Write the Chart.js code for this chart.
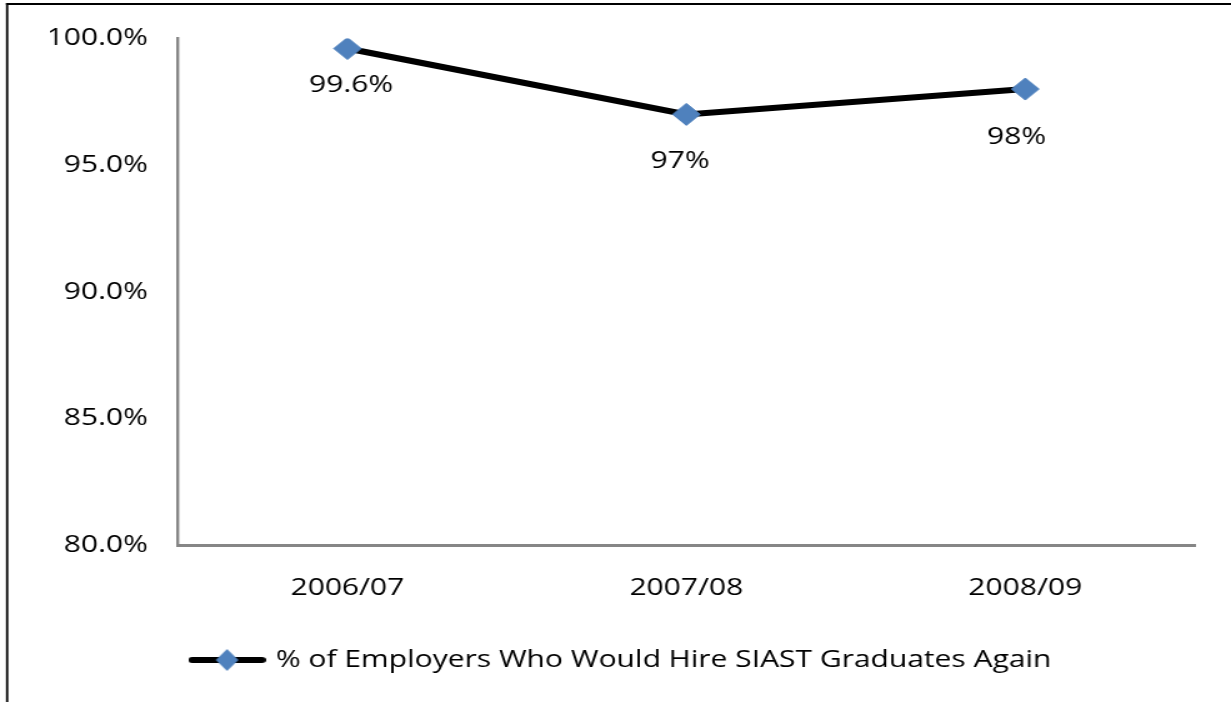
<!DOCTYPE html>
<html lang="en">
<head>
  <meta charset="UTF-8" />
  <title>Employers Who Would Hire SIAST Graduates Again</title>
  <script src="https://cdn.jsdelivr.net/npm/chart.js"></script>
  <style>
    html, body { margin: 0; padding: 0; background: #fff; overflow: hidden; }
  </style>
</head>
<body>
  <!-- drawn narrower and stretched sideways, like the pasted Excel chart -->
  <canvas id="grafico" width="985" height="702" style="display:block;width:1231px;height:702px"></canvas>

  <script>
    const categories = ["2006/07", "2007/08", "2008/09"];
    const hireAgain = [99.6, 97, 98];
    const yTickValues = [80, 85, 90, 95, 100];
    const seriesLabel = "% of Employers Who Would Hire SIAST Graduates Again";

    const FONT = "'Open Sans'";
    const FONT_SIZE = 24;
    const LINE_COLOR = "#000000";
    const MARKER_COLOR = "#4F81BD";
    const AXIS_COLOR = "#868686";

    // legend swatch: thick line with a diamond in the middle
    function legendSwatch() {
      const c = document.createElement("canvas");
      c.width = 62;
      c.height = 24;
      const g = c.getContext("2d");
      g.strokeStyle = LINE_COLOR;
      g.lineWidth = 6;
      g.lineCap = "round";
      g.beginPath();
      g.moveTo(3, 12);
      g.lineTo(59, 12);
      g.stroke();
      g.fillStyle = MARKER_COLOR;
      g.beginPath();
      g.moveTo(31, 1);
      g.lineTo(40, 12);
      g.lineTo(31, 23);
      g.lineTo(22, 12);
      g.closePath();
      g.fill();
      return c;
    }

    // value labels written under each point
    const valueLabels = {
      id: "valueLabels",
      afterDatasetsDraw(chart, args, opts) {
        const ctx = chart.ctx;
        const meta = chart.getDatasetMeta(0);
        ctx.save();
        ctx.font = FONT_SIZE + "px " + FONT;
        ctx.fillStyle = "#000";
        ctx.textAlign = "center";
        ctx.textBaseline = "middle";
        meta.data.forEach((pt, i) => {
          const off = opts.offsets[i] || [0, 46];
          const v = chart.data.datasets[0].data[i];
          ctx.fillText(v + "%", pt.x + off[0], pt.y + off[1]);
        });
        ctx.restore();
      }
    };

    // thin frame along the top and left edge
    const frame = {
      id: "frame",
      beforeDraw(chart) {
        const ctx = chart.ctx;
        ctx.save();
        ctx.fillStyle = "#000";
        ctx.fillRect(4.8, 3, chart.width, 2);
        ctx.fillRect(4.8, 3, 1.8, chart.height);
        ctx.restore();
      }
    };

    new Chart(document.getElementById("grafico"), {
      type: "line",
      data: {
        labels: categories,
        datasets: [{
          label: seriesLabel,
          data: hireAgain,
          borderColor: LINE_COLOR,
          borderWidth: 6,
          tension: 0,
          pointStyle: "rectRot",
          pointRadius: 11,
          pointBackgroundColor: MARKER_COLOR,
          pointBorderColor: MARKER_COLOR,
          pointBorderWidth: 1
        }]
      },
      plugins: [frame, valueLabels],
      options: {
        responsive: false,
        devicePixelRatio: 1,
        animation: false,
        events: [],
        layout: { padding: { top: 37, right: 29, bottom: 20, left: 40 } },
        scales: {
          x: {
            offset: true,
            grid: { display: false, drawTicks: false },
            border: { display: true, color: AXIS_COLOR, width: 3 },
            ticks: { color: "#000", font: { family: FONT, size: FONT_SIZE }, padding: 29 },
            afterFit(s) { s.height = 93; }
          },
          y: {
            min: yTickValues[0],
            max: yTickValues[yTickValues.length - 1],
            afterBuildTicks(s) { s.ticks = yTickValues.map(v => ({ value: v })); },
            grid: { display: false, drawTicks: false },
            border: { display: true, color: AXIS_COLOR, width: 2.4 },
            ticks: {
              color: "#000",
              font: { family: FONT, size: FONT_SIZE },
              padding: 24,
              callback: v => v.toFixed(1) + "%"
            },
            afterFit(s) { s.width = 102.4; }
          }
        },
        plugins: {
          tooltip: { enabled: false },
          valueLabels: { offsets: [[3, 37], [-5, 47], [-7, 48]] },
          legend: {
            position: "bottom",
            labels: {
              color: "#000",
              font: { family: FONT, size: FONT_SIZE },
              usePointStyle: true,
              pointStyleWidth: 54,
              generateLabels(chart) {
                return [{
                  text: seriesLabel,
                  pointStyle: legendSwatch(),
                  fillStyle: MARKER_COLOR,
                  strokeStyle: LINE_COLOR,
                  lineWidth: 0,
                  hidden: false,
                  datasetIndex: 0
                }];
              }
            }
          }
        }
      }
    });
  </script>
</body>
</html>
